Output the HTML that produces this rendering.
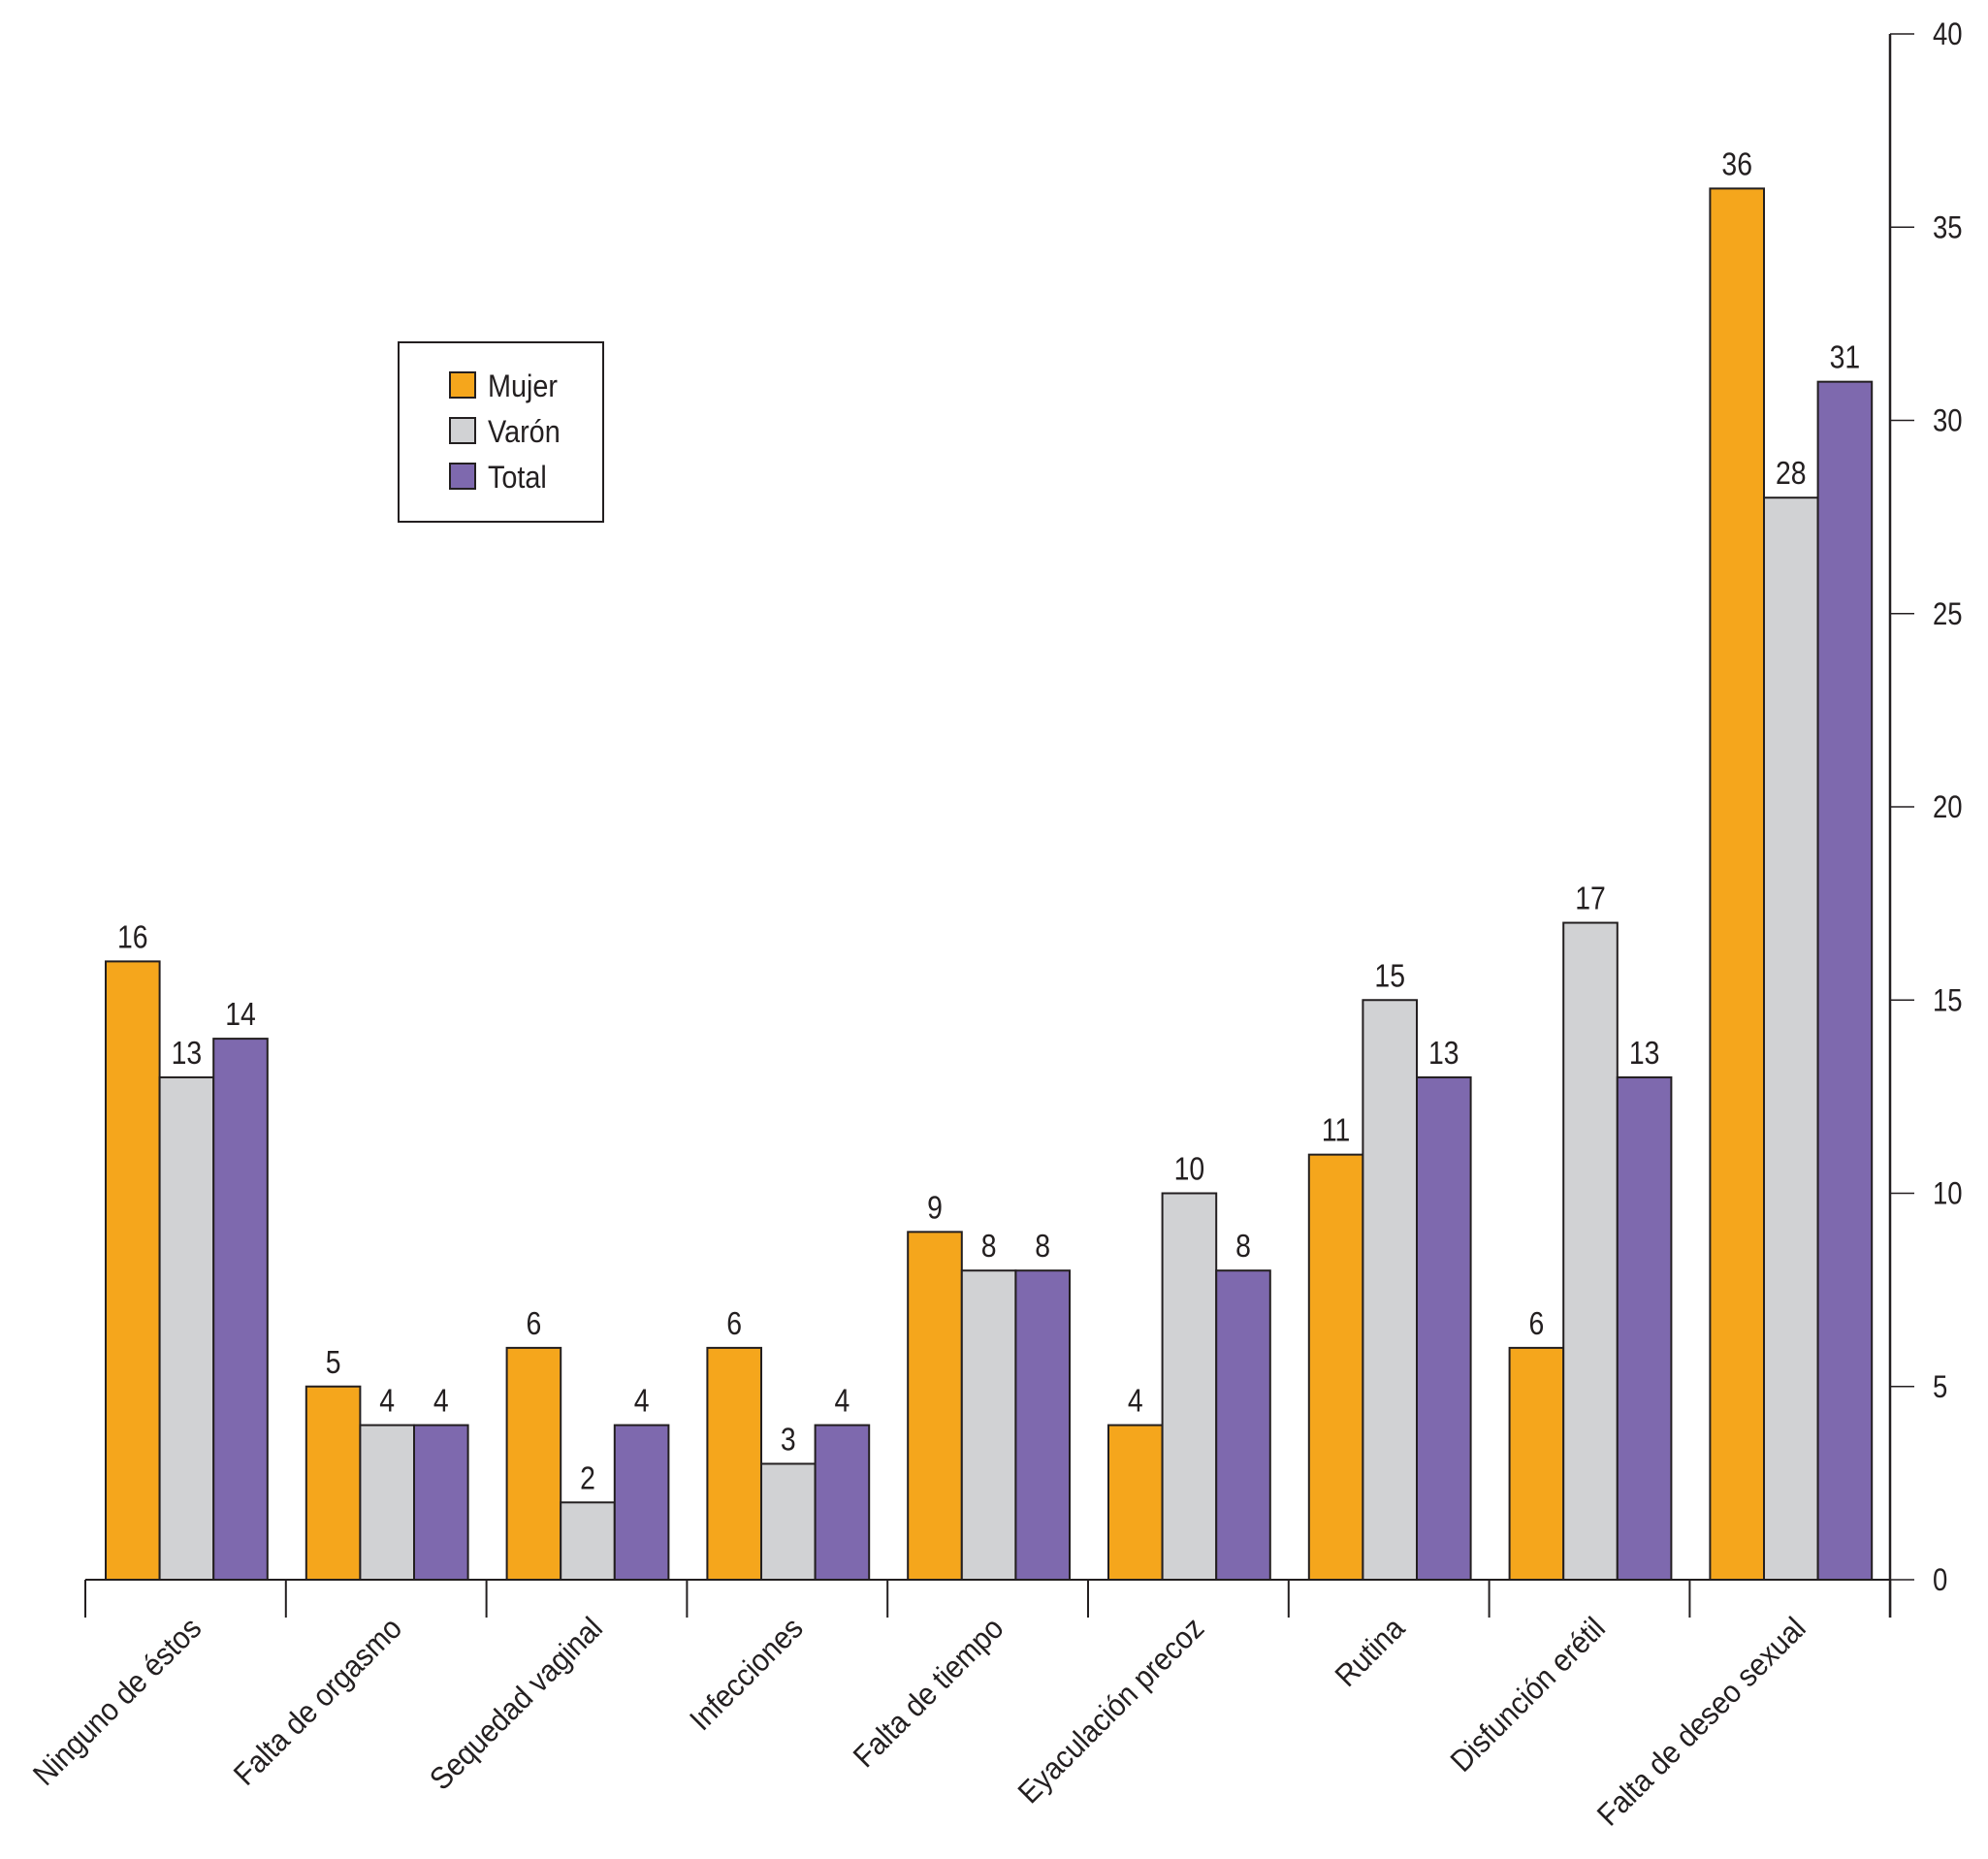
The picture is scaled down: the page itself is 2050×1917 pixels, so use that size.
<!DOCTYPE html>
<html><head><meta charset="utf-8"><style>
html,body{margin:0;padding:0;background:#fff}
svg text{font-family:"Liberation Sans",sans-serif;fill:#231f20}
</style></head><body>
<svg id="chart" width="2050" height="1912" viewBox="0 0 2050 1912" xmlns="http://www.w3.org/2000/svg">
<g id="bars"></g>
<g id="axes"></g>
<g>
<rect x="411" y="353" width="211" height="185" fill="#fff" stroke="#231f20" stroke-width="2"/>
<g><rect x="464" y="384" width="26" height="26" fill="#F5A61C" stroke="#231f20" stroke-width="2"/><text transform="translate(503 409) scale(0.9 1)" font-size="32">Mujer</text></g>
<g><rect x="464" y="431" width="26" height="26" fill="#D1D2D4" stroke="#231f20" stroke-width="2"/><text transform="translate(503 456) scale(0.9 1)" font-size="32">Varón</text></g>
<g><rect x="464" y="478" width="26" height="26" fill="#7E69AE" stroke="#231f20" stroke-width="2"/><text transform="translate(503 503) scale(0.9 1)" font-size="32">Total</text></g>
</g>
</svg>
<script>
const categories=["Ninguno de éstos","Falta de orgasmo","Sequedad vaginal","Infecciones","Falta de tiempo","Eyaculación precoz","Rutina","Disfunción erétil","Falta de deseo sexual"];
const mujer=[16,5,6,6,9,4,11,6,36];
const varon=[13,4,2,3,8,10,15,17,28];
const total=[14,4,4,4,8,8,13,13,31];
const yTicks=[0,5,10,15,20,25,30,35,40];
const seriesNames=["mujer","varon","total"];
const colors=["#F5A61C","#D1D2D4","#7E69AE"];

const NS="http://www.w3.org/2000/svg";
const x0=88,groupW=206.8,baseY=1629,topY=35,yMax=40,barW=55.6,gOff=21,axisX=1949;
function y(v){return baseY-(v/yMax)*(baseY-topY);}
function gx(i){return x0+i*groupW;}
function mk(tag,attrs,parent){const e=document.createElementNS(NS,tag);for(const k in attrs)e.setAttribute(k,attrs[k]);parent.appendChild(e);return e;}
const bars=document.getElementById('bars'),axes=document.getElementById('axes');
const series=[mujer,varon,total];
categories.forEach((c,i)=>{
  series.forEach((s,j)=>{
    const bx=gx(i)+gOff+j*barW;
    const r=mk('rect',{x:bx,y:y(s[i]),width:barW,height:baseY-y(s[i]),fill:colors[j],stroke:'#231f20','stroke-width':2},bars);
    
    
    const t=mk('text',{transform:`translate(${bx+barW/2} ${y(s[i])-14}) scale(0.86 1)`,'font-size':33,'text-anchor':'middle'},bars);
    t.textContent=s[i];
    
    
  });
  const cx=gx(i)+groupW/2+18, cy=baseY+52;
  const l=mk('text',{'font-size':32,'text-anchor':'end',transform:`translate(${cx} ${cy}) rotate(-45) scale(0.92 1)`},axes);
  l.textContent=c;
  
  
});
const base=mk('line',{x1:x0,y1:baseY,x2:axisX,y2:baseY,stroke:'#231f20','stroke-width':2},axes);


for(let i=0;i<=categories.length;i++){
  const t=mk('line',{x1:gx(i),y1:baseY,x2:gx(i),y2:1668,stroke:'#231f20','stroke-width':2},axes);
  
  
}
const ya=mk('line',{x1:axisX,y1:topY,x2:axisX,y2:1668,stroke:'#231f20','stroke-width':2.5},axes);


yTicks.forEach(v=>{
  const t=mk('line',{x1:axisX,y1:y(v),x2:axisX+25,y2:y(v),stroke:'#231f20','stroke-width':1.5},axes);
  
  
  const l=mk('text',{transform:`translate(1993 ${y(v)+11}) scale(0.86 1)`,'font-size':32},axes);
  l.textContent=v;
  
  
});
</script>
</body></html>
